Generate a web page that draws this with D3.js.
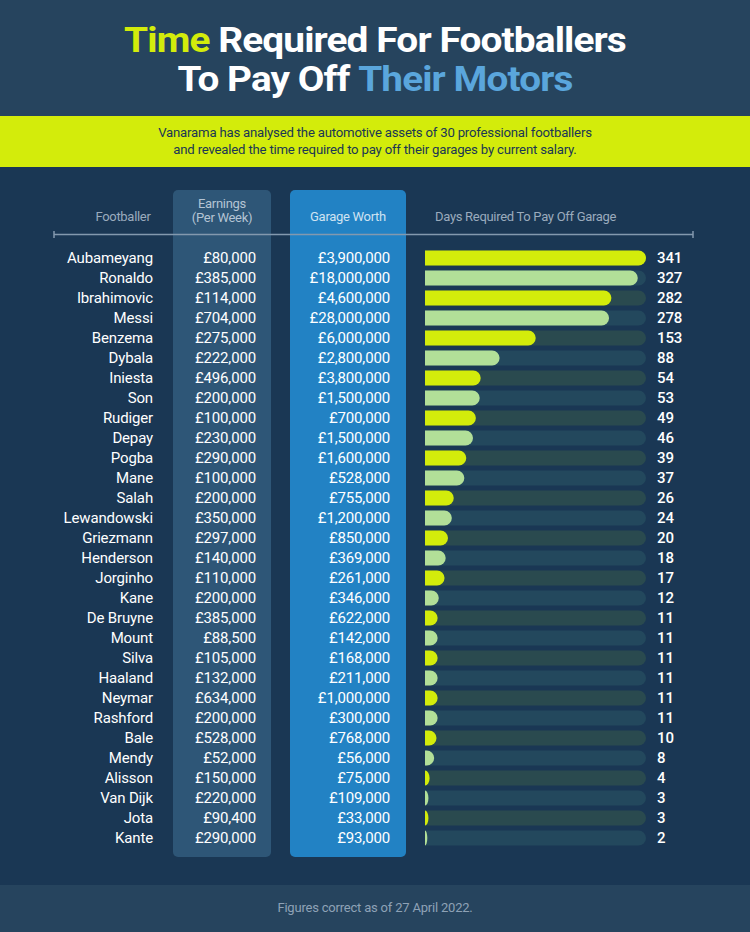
<!DOCTYPE html>
<html><head><meta charset="utf-8">
<script src="https://cdn.jsdelivr.net/npm/d3@7"></script>
<style>html,body{margin:0;padding:0;background:#1a3754;}svg{display:block;}</style>
</head><body>
<script>
const players = ["Aubameyang","Ronaldo","Ibrahimovic","Messi","Benzema","Dybala","Iniesta","Son","Rudiger","Depay","Pogba","Mane","Salah","Lewandowski","Griezmann","Henderson","Jorginho","Kane","De Bruyne","Mount","Silva","Haaland","Neymar","Rashford","Bale","Mendy","Alisson","Van Dijk","Jota","Kante"];
const earnings = [80000,385000,114000,704000,275000,222000,496000,200000,100000,230000,290000,100000,200000,350000,297000,140000,110000,200000,385000,88500,105000,132000,634000,200000,528000,52000,150000,220000,90400,290000];
const garage = [3900000,18000000,4600000,28000000,6000000,2800000,3800000,1500000,700000,1500000,1600000,528000,755000,1200000,850000,369000,261000,346000,622000,142000,168000,211000,1000000,300000,768000,56000,75000,109000,33000,93000];
const days = [341,327,282,278,153,88,54,53,49,46,39,37,26,24,20,18,17,12,11,11,11,11,11,11,10,8,4,3,3,2];
const columnHeaders = ["Footballer","Earnings","(Per Week)","Garage Worth","Days Required To Pay Off Garage"];
// the original graphic's bars are not proportional: piecewise breakpoints of its (compressed) day axis
const dayBreaks = [0, 20, 54, 153, 341];
const dayBreakShare = [0, 0.104, 0.252, 0.501, 1];

const W = 750, H = 932;
const svg = d3.select("body").append("svg").attr("width", W).attr("height", H);
const FONT = "Roboto, 'Liberation Sans', sans-serif";

function fitWidth(sel, target, cx) {
  const w = sel.node().getComputedTextLength();
  const s = target / w;
  sel.attr("transform", `translate(${cx},0) scale(${s},1) translate(${-cx},0)`);
  return s;
}

// backgrounds
svg.append("rect").attr("width", W).attr("height", H).attr("fill", "#1a3754");
svg.append("rect").attr("width", W).attr("height", 116).attr("fill", "#26445e");
svg.append("rect").attr("y", 116).attr("width", W).attr("height", 51).attr("fill", "#d3ec0b");
svg.append("rect").attr("y", 885).attr("width", W).attr("height", 47).attr("fill", "#26445e");

// title
const t1 = svg.append("text").attr("x", W/2).attr("y", 52).attr("text-anchor", "middle")
  .attr("font-family", FONT).attr("font-weight", 700).attr("font-size", 35).attr("letter-spacing", -0.8);
t1.append("tspan").attr("fill", "#d3ec0b").text("Time");
t1.append("tspan").attr("fill", "#ffffff").text(" Required For Footballers");
fitWidth(t1, 502, W/2);
const t2 = svg.append("text").attr("x", W/2).attr("y", 91).attr("text-anchor", "middle")
  .attr("font-family", FONT).attr("font-weight", 700).attr("font-size", 35).attr("letter-spacing", -0.8);
t2.append("tspan").attr("fill", "#ffffff").text("To Pay Off ");
t2.append("tspan").attr("fill", "#5aa6dc").text("Their Motors");
fitWidth(t2, 394, W/2);

// subtitle
const s1 = svg.append("text").attr("x", W/2).attr("y", 137).attr("text-anchor", "middle")
  .attr("font-family", FONT).attr("font-size", 13).attr("fill", "#1a3754").attr("letter-spacing", -0.2)
  .text("Vanarama has analysed the automotive assets of 30 professional footballers");
const sc = fitWidth(s1, 434, W/2);
svg.append("text").attr("x", W/2).attr("y", 154).attr("text-anchor", "middle")
  .attr("font-family", FONT).attr("font-size", 13).attr("fill", "#1a3754").attr("letter-spacing", -0.2)
  .attr("transform", `translate(${W/2},0) scale(${sc},1) translate(${-W/2},0)`)
  .text("and revealed the time required to pay off their garages by current salary.");

// column boxes
svg.append("rect").attr("x", 173).attr("y", 190).attr("width", 98).attr("height", 667).attr("rx", 5).attr("fill", "#2e5677");
svg.append("rect").attr("x", 290).attr("y", 190).attr("width", 116).attr("height", 667).attr("rx", 5).attr("fill", "#2282c4");

// column headers
const hdr = (x, y, txt, anchor, fill) => svg.append("text").attr("x", x).attr("y", y).attr("text-anchor", anchor || "middle")
  .attr("font-family", FONT).attr("font-size", 13).attr("fill", fill || "#9aabbd").attr("letter-spacing", -0.3).text(txt);
hdr(123, 221, columnHeaders[0]);
hdr(222, 208, columnHeaders[1], "middle", "#b4c4d4");
hdr(222, 221.5, columnHeaders[2], "middle", "#b4c4d4");
hdr(348, 221, columnHeaders[3], "middle", "#cfe3f2");
hdr(435, 221, columnHeaders[4], "start");

// header rule
svg.append("line").attr("x1", 54).attr("x2", 693).attr("y1", 234.5).attr("y2", 234.5).attr("stroke", "#8399ae").attr("stroke-width", 1.5);
svg.append("line").attr("x1", 54).attr("x2", 54).attr("y1", 231).attr("y2", 238).attr("stroke", "#8399ae").attr("stroke-width", 1.5);
svg.append("line").attr("x1", 693).attr("x2", 693).attr("y1", 231).attr("y2", 238).attr("stroke", "#8399ae").attr("stroke-width", 1.5);

// scales
const y = d3.scaleBand().domain(players).range([248, 848]).paddingInner(0.25).paddingOuter(0.125);
const x0 = 425, x1 = 646;
const x = d3.scaleLinear().domain(dayBreaks).range(dayBreakShare.map(s => x0 + s * (x1 - x0)));
const bh = y.bandwidth();
const rowY = d => y(d) + bh/2;

function barPath(a, b, yc, h) {
  const w = Math.max(0, b - a);
  const r = Math.min(h/2, w);
  const top = yc - h/2, bot = yc + h/2;
  return `M${a},${top}H${b - r}A${r},${h/2} 0 0 1 ${b - r},${bot}H${a}Z`;
}
const money = v => "£" + d3.format(",")(v);

const rows = svg.append("g").selectAll("g").data(players).join("g");
rows.append("path").attr("d", d => barPath(x(0), x(341), rowY(d), bh))
  .attr("fill", (d, i) => i % 2 === 0 ? "#2a4a4f" : "#23485d");
rows.append("path").attr("d", (d, i) => barPath(x(0), x(days[i]), rowY(d), bh))
  .attr("fill", (d, i) => i % 2 === 0 ? "#d3ec0b" : "#b2df98");

const txt = (sel, xx, anchor, f) => sel.append("text").attr("x", xx).attr("y", d => rowY(d)).attr("dy", "0.36em")
  .attr("text-anchor", anchor).attr("font-family", FONT).attr("font-size", 15).attr("fill", "#ffffff")
  .attr("letter-spacing", -0.15).text(f);
txt(rows, 153, "end", d => d);
txt(rows, 256, "end", (d, i) => money(earnings[i]));
txt(rows, 390, "end", (d, i) => money(garage[i]));
txt(rows, 657, "start", (d, i) => days[i]).attr("font-weight", 500);

// footer
svg.append("text").attr("x", W/2).attr("y", 912).attr("text-anchor", "middle")
  .attr("font-family", FONT).attr("font-size", 13).attr("fill", "#8ea2b6").attr("letter-spacing", -0.2)
  .text("Figures correct as of 27 April 2022.");
</script>
</body></html>
